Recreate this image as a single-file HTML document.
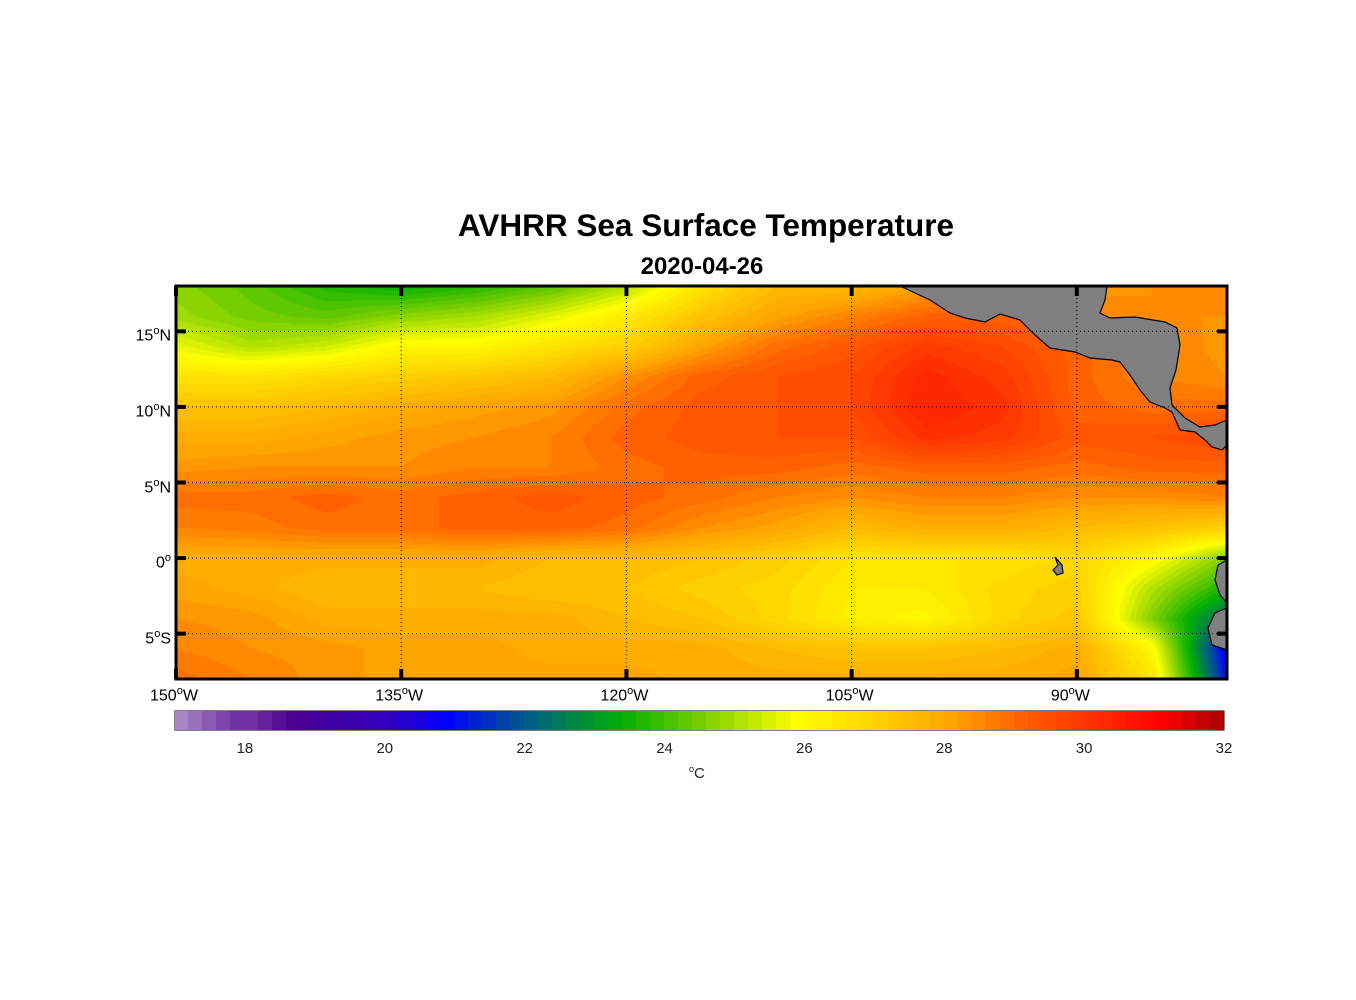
<!DOCTYPE html>
<html><head><meta charset="utf-8"><style>
body{margin:0;background:#fff;width:1356px;height:1000px;position:relative;overflow:hidden;font-family:"Liberation Sans",sans-serif}
.t{position:absolute;font-size:16px;color:#000;white-space:nowrap}
sup{font-size:11px}
</style></head><body>
<div style="position:absolute;left:0;width:1412px;top:207px;text-align:center;font-weight:bold;font-size:31.5px">AVHRR Sea Surface Temperature</div>
<div style="position:absolute;left:0;width:1404px;top:253px;text-align:center;font-weight:bold;font-size:24px">2020-04-26</div>
<canvas id="cv" width="1051" height="393" style="position:absolute;left:176px;top:286px"></canvas>
<svg id="ov" width="1356" height="1000" style="position:absolute;left:0;top:0"></svg>
<canvas id="cb" width="1049" height="19" style="position:absolute;left:175px;top:711px"></canvas>
<div id="labels"></div>
<script>
const lons=[-150,-145,-140,-135,-130,-125,-120,-115,-110,-105,-100,-95,-90,-85,-80];
const lats=[18,16,14,12,10,8,6,4,2,0,-2,-4,-6,-8];
const sst=[
[24.6,24.2,23.6,23.3,23.6,24.1,25,26.5,27.5,27.5,28,28,28.2,28.3,28.3],
[24.8,24.4,24.2,24.6,24.9,25.5,26.3,27.3,28,28.5,29,29,28.5,28.3,28.3],
[25.6,25,25.3,26,26,26.5,27,28,28.8,29.2,29.8,29.5,29,28.5,28.2],
[26.5,26.5,26.8,27,27.2,27.5,28.3,29,29.3,29.5,30.2,29.8,29,28.5,28.3],
[27.3,27.3,27.5,27.8,28,28.2,28.8,29.2,29.3,29.5,30.3,30,29,28.8,28.8],
[27.8,27.8,28,28.2,28.3,28.5,29,29.2,29.3,29.3,30,29.8,29.2,29.3,29.5],
[28.2,28.3,28.3,28.3,28.5,28.5,28.8,29,29,28.8,29,29,28.8,29,29],
[28.8,28.8,29,28.8,29,29.2,29,28.8,28.5,28.3,28.5,28.5,28.3,28.3,28.5],
[28.5,28.6,28.8,28.8,29,29,28.8,28.3,28,27.5,27.8,27.8,27.5,27.3,27],
[27.8,27.8,27.8,27.8,27.8,27.5,27.5,27.3,27,26.5,26.5,26.5,26.8,26,24.5],
[28,27.8,27.5,27.5,27.5,27.3,27.3,27,26.8,26.3,26.3,26.8,27,25,23.5],
[28.3,28.2,27.8,27.8,27.8,27.8,27.5,27.3,26.8,26.2,26,26.8,27.2,24.5,22],
[28.5,28.3,28.2,28,28,27.8,27.8,27.8,27.5,27.3,27.3,27.5,27.8,26,20.5],
[28.8,28.5,28.2,28,28,28,28,27.8,27.8,27.8,27.8,27.8,28,26.5,21]];
const cbTicks=[18,20,22,24,26,28,30,32];
const lonTicks=[-150,-135,-120,-105,-90];
const latTicks=[15,10,5,0,-5];
const stops=[[17,[184,154,208]],[18,[112,48,160]],[18.6,[75,0,144]],[20,[48,0,192]],[20.8,[0,0,255]],[22,[0,96,128]],[23.3,[0,176,0]],[24.5,[128,208,0]],[25.8,[255,255,0]],[27,[255,208,0]],[28,[255,165,0]],[29,[255,96,0]],[30,[255,48,0]],[31,[255,0,0]],[32,[160,0,0]]];
function cmap(v){v=Math.round(v*5)/5;if(v<=17)return stops[0][1];for(let i=1;i<stops.length;i++){if(v<=stops[i][0]){const a=stops[i-1],b=stops[i],t=(v-a[0])/(b[0]-a[0]);return a[1].map((c,k)=>Math.round(c+(b[1][k]-c)*t));}}return stops[stops.length-1][1];}
const X=lon=>176+(lon+150)*(1051/70), Y=lat=>286+(18-lat)*(393/26);
const cv=document.getElementById('cv'),ctx=cv.getContext('2d'),img=ctx.createImageData(1051,393);
for(let py=0;py<393;py++){const lat=18-(py+0.5)*26/393;let fr=(lats[0]-lat)/(lats[0]-lats[1]);let r0=Math.min(Math.floor(fr),lats.length-2),tr=fr-r0;
for(let px=0;px<1051;px++){const lon=-150+(px+0.5)*70/1051;let fc=(lon-lons[0])/(lons[1]-lons[0]);let c0=Math.min(Math.floor(fc),lons.length-2),tc=fc-c0;
const v=(sst[r0][c0]*(1-tc)+sst[r0][c0+1]*tc)*(1-tr)+(sst[r0+1][c0]*(1-tc)+sst[r0+1][c0+1]*tc)*tr;
const c=cmap(v),i=(py*1051+px)*4;img.data[i]=c[0];img.data[i+1]=c[1];img.data[i+2]=c[2];img.data[i+3]=255;}}
ctx.putImageData(img,0,0);
const cb=document.getElementById('cb'),cx=cb.getContext('2d');
for(let v=17;v<32;v+=0.2){const c=cmap(v+0.1);cx.fillStyle=`rgb(${c})`;const x0=(v-17)*1049/15;cx.fillRect(Math.floor(x0),0,Math.ceil(1049*0.2/15)+1,19);}
const NS='http://www.w3.org/2000/svg',ov=document.getElementById('ov');
function el(t,a){const e=document.createElementNS(NS,t);for(const k in a)e.setAttribute(k,a[k]);ov.appendChild(e);return e;}
const landPolys=[
"900,286 930,300 950,313 965,318 985,322 1000,314 1020,320 1035,335 1050,348 1075,352 1090,358 1112,360 1120,362 1130,375 1140,390 1150,402 1165,408 1172,412 1180,430 1195,432 1205,440 1212,447 1222,450 1227,445 1227,420 1215,425 1200,427 1185,418 1172,405 1170,388 1176,370 1180,345 1177,328 1165,322 1135,317 1110,318 1100,313 1105,300 1107,286",
"1227,560 1218,565 1215,580 1220,595 1227,603",
"1227,608 1215,613 1208,628 1212,645 1227,650",
"1055,557 1062,565 1063,573 1057,575 1053,570 1058,565"];
landPolys.forEach((p,i)=>{const e=el('polygon',{points:p,fill:'#808080',stroke:'#000','stroke-width':1.2});

});
const lab=document.getElementById('labels');
function fmtLon(l){return (-l)+'<sup>o</sup>W';}
function fmtLat(l){return l===0?'0<sup>o</sup>':Math.abs(l)+'<sup>o</sup>'+(l>0?'N':'S');}
lonTicks.forEach(l=>{const x=X(l);
if(l>-150){const g=el('line',{x1:x,x2:x,y1:286,y2:679,stroke:'#000','stroke-width':1,'stroke-dasharray':'1,3'});

}
el('line',{x1:x,x2:x,y1:286,y2:296,stroke:'#000','stroke-width':4});el('line',{x1:x,x2:x,y1:669,y2:679,stroke:'#000','stroke-width':4});
const d=document.createElement('div');d.className='t';d.style.left=(x-26)+'px';d.style.top='685px';d.innerHTML=fmtLon(l);

lab.appendChild(d);});
latTicks.forEach(l=>{const y=Y(l);
const g=el('line',{x1:176,x2:1227,y1:y,y2:y,stroke:'#000','stroke-width':1,'stroke-dasharray':'1,3'});


el('line',{x1:176,x2:186,y1:y,y2:y,stroke:'#000','stroke-width':4});el('line',{x1:1217,x2:1227,y1:y,y2:y,stroke:'#000','stroke-width':4});
const d=document.createElement('div');d.className='t';d.style.right=(1356-171)+'px';d.style.top=(y-6)+'px';d.innerHTML=fmtLat(l);

lab.appendChild(d);});
const fr=el('rect',{x:176,y:286,width:1051,height:393,fill:'none',stroke:'#000','stroke-width':3});


const cf=el('rect',{x:175,y:711,width:1049,height:19,fill:'none',stroke:'#000','stroke-width':1});


cbTicks.forEach(v=>{const x=175+(v-17)*1049/15;
if(v<32)el('line',{x1:x,x2:x,y1:720,y2:730,stroke:'#000','stroke-width':1});
const d=document.createElement('div');d.className='t';d.style.left=(x-10)+'px';d.style.width='20px';d.style.textAlign='center';d.style.top='740px';d.style.fontSize='15px';d.style.color='#222';d.textContent=v;

lab.appendChild(d);});
const u=document.createElement('div');u.className='t';u.style.left='689px';u.style.top='764px';u.style.fontSize='15px';u.style.color='#222';u.innerHTML='<sup style="font-size:9px">o</sup>C';

lab.appendChild(u);
</script>
</body></html>
